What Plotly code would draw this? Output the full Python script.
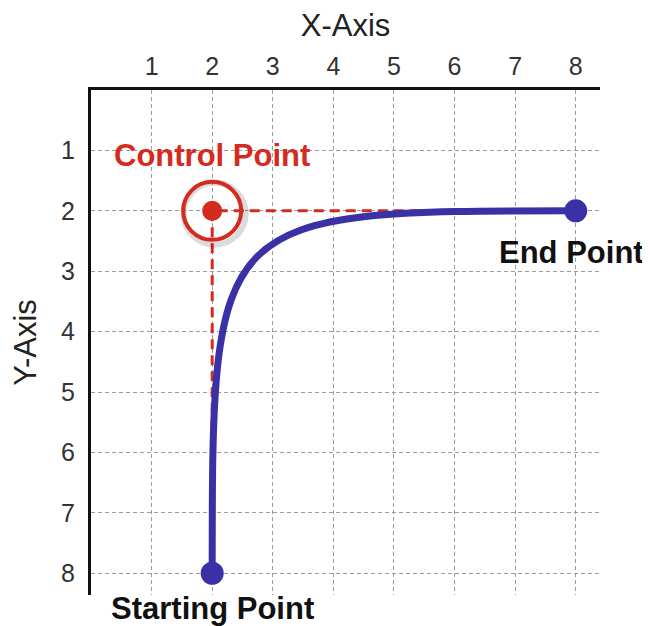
import plotly.graph_objects as go

# ---- data ----
tick_vals = [1, 2, 3, 4, 5, 6, 7, 8]
tick_text = ["1", "2", "3", "4", "5", "6", "7", "8"]

start_pt = (2, 8)
control_pt = (2, 2)
end_pt = (8, 2)

point_labels = ["Starting Point", "Control Point", "End Point"]
x_title = "X-Axis"
y_title = "Y-Axis"

BLUE = "#3a31a6"
RED = "#d52a1e"
FONT = "Liberation Sans, Arial, Helvetica, sans-serif"

fig = go.Figure()

# soft shadow of control ring (offset down-right a little)
fig.add_trace(go.Scatter(
    x=[control_pt[0] + 0.04], y=[control_pt[1] + 0.05], mode="markers",
    marker=dict(size=62, color="rgba(0,0,0,0)",
                line=dict(color="rgba(0,0,0,0.14)", width=6)),
    hoverinfo="skip", showlegend=False))
# control ring
fig.add_trace(go.Scatter(
    x=[control_pt[0]], y=[control_pt[1]], mode="markers",
    marker=dict(size=58, color="rgba(255,255,255,0)",
                line=dict(color=RED, width=4)),
    hoverinfo="skip", showlegend=False))
# control point
fig.add_trace(go.Scatter(
    x=[control_pt[0]], y=[control_pt[1]], mode="markers",
    marker=dict(size=20, color=RED, line=dict(width=0)),
    hoverinfo="skip", showlegend=False))
# start / end points
fig.add_trace(go.Scatter(
    x=[start_pt[0], end_pt[0]], y=[start_pt[1], end_pt[1]], mode="markers",
    marker=dict(size=23, color=BLUE, line=dict(width=0)),
    hoverinfo="skip", showlegend=False))

# tangent (dashed) lines and bezier curve as data-coordinate paths
tangent_path = (f"M {start_pt[0]},{start_pt[1]} L {control_pt[0]},{control_pt[1]} "
                f"L {end_pt[0]},{end_pt[1]}")
curve_path = (f"M {start_pt[0]},{start_pt[1]} C {control_pt[0]},{control_pt[1]} "
              f"{control_pt[0]},{control_pt[1]} {end_pt[0]},{end_pt[1]}")
fig.add_shape(type="path", path=tangent_path, xref="x", yref="y", layer="between",
              line=dict(color=RED, width=3, dash="10px,6px"))
fig.add_shape(type="path", path=curve_path, xref="x", yref="y", layer="between",
              line=dict(color=BLUE, width=7))

# labels
label_font = dict(family=FONT, size=31)
fig.add_annotation(x=start_pt[0], y=start_pt[1], text=f"<b>{point_labels[0]}</b>",
                   showarrow=False, yshift=-35, font=dict(**label_font, color="#111111"))
fig.add_annotation(x=control_pt[0], y=control_pt[1], text=f"<b>{point_labels[1]}</b>",
                   showarrow=False, yshift=55, font=dict(**label_font, color=RED))
fig.add_annotation(x=end_pt[0], y=end_pt[1], text=f"<b>{point_labels[2]}</b>",
                   showarrow=False, yshift=-42, xshift=-4,
                   font=dict(**label_font, color="#111111"))

axis_common = dict(
    tickvals=tick_vals, ticktext=tick_text, ticks="",
    showgrid=True, gridcolor="#9c9c9c", gridwidth=1, griddash="4px,3px",
    showline=True, linecolor="#111111", linewidth=3, zeroline=False,
    automargin=False,
    tickfont=dict(family=FONT, size=25, color="#333333"),
)

# the page body adds an 8px offset, so the figure is 8px smaller than the window
fig.update_layout(
    width=642, height=618,
    margin=dict(l=83, r=50, t=82, b=31),
    paper_bgcolor="white", plot_bgcolor="white",
    showlegend=False,
    xaxis=dict(range=[0, 8.4], side="top", ticklabelstandoff=2,
               title=dict(text=x_title, standoff=11,
                          font=dict(family=FONT, size=31, color="#222222")),
               **axis_common),
    yaxis=dict(range=[8.36, 0], ticklabelstandoff=8,
               title=dict(text=y_title, standoff=18,
                          font=dict(family=FONT, size=31, color="#222222")),
               **axis_common),
)

fig.write_html("out.html")
